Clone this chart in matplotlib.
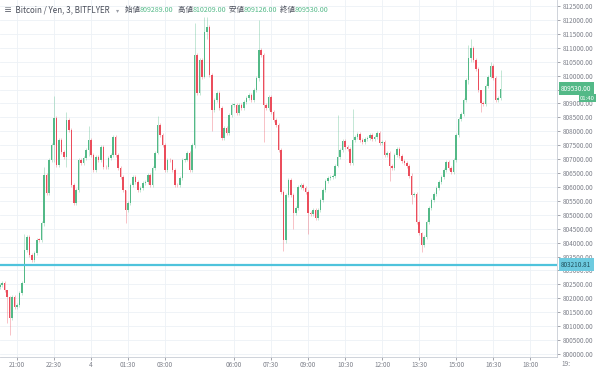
import matplotlib
matplotlib.use("Agg")
import matplotlib.pyplot as plt
import numpy as np
import pandas as pd

plt.rcParams['font.family'] = ['Noto Sans CJK JP', 'DejaVu Sans']

# 6-minute candles, closes (JPY)
closes = [
    802480, 802550, 802300, 802050, 801290, 802050, 801690, 801760, 802190, 802550,
    803740, 804200, 803560, 803380, 803630, 804100, 804090, 804710, 806430, 805780,
    806970, 807510, 808480, 806790, 807690, 807260, 807080, 808410, 808050, 806070,
    805420, 805890, 806970, 806860, 807040, 807330, 807690, 807150, 806610, 807080,
    806970, 807440, 806720, 806700, 807040, 807150, 807800, 807150, 806680, 806360,
    805890, 805170, 805420, 806070, 806360, 806180, 805890, 805960, 806140, 806180,
    806430, 806070, 806680, 807220, 808230, 807870, 807510, 806610, 806970, 806960,
    806610, 806070, 806060, 806320, 806970, 806980, 807220, 806610, 807510, 810740,
    809380, 810560, 809950, 811570, 811750, 810020, 808770, 809120, 809380, 808840,
    807760, 808120, 807940, 808590, 808940, 808950, 808660, 808940, 808840, 809050,
    809200, 809300, 809120, 809480, 809910, 810920, 810740, 808940, 808840, 809230,
    808690, 808410, 808230, 807330, 805820, 804100, 805710, 806250, 805710, 805070,
    805250, 806000, 806070, 805960, 805820, 805070, 805030, 805170, 804890, 805170,
    805530, 805890, 806210, 806320, 806360, 806390, 806750, 807080, 807330, 807650,
    807440, 807360, 806860, 807690, 807800, 807900, 807690, 807620, 807720, 807760,
    807870, 807720, 807800, 807940, 807580, 807620, 807150, 807220, 806750, 806680,
    807150, 807360, 807110, 806930, 806860, 806750, 806390, 805710, 805750, 804740,
    804350, 803920, 804200, 804740, 805250, 805530, 805750, 805960, 806180, 806360,
    806610, 806900, 806680, 806540, 806970, 807870, 808440, 808620, 809120, 809840,
    810630, 810990, 810560, 810240, 809480, 809020, 808980, 809630, 809950, 810350,
    809910, 809120, 809200, 809530,
]
first_open = 802400
# notable wicks: index -> (high, low)
spikes = {
    3: (802300, 801100), 4: (802100, 800700), 10: (804300, 802600), 18: (806700, 804600),
    22: (809250, 806900), 27: (808700, 806700), 36: (808200, 807100), 51: (805900, 804700),
    64: (808550, 807200), 79: (811900, 807400), 83: (812100, 809900), 84: (812100, 811300),
    86: (810100, 808000), 105: (812000, 809800), 107: (810800, 807600), 115: (805900, 803700),
    116: (805800, 804000), 119: (805800, 804500), 125: (805900, 804300), 137: (808600, 806700),
    143: (808800, 806800), 158: (807300, 806200), 167: (806500, 805400), 171: (804400, 803650),
    190: (811100, 809700), 191: (811300, 810500), 195: (809500, 808700), 199: (810500, 809900),
    203: (810210, 809130),
}
last_price = 809530.00
line_price = 803210.81
header = [("始値 ", "809289.00"), ("高値 ", "810209.00"), ("安値 ", "809126.00"), ("終値 ", "809530.00")]
tick_times = ["21:00", "22:30", "4", "01:30", "03:00", "06:00", "07:30", "09:00",
              "10:30", "12:00", "13:30", "15:00", "16:30", "18:00"]

UP, DOWN = "#53b987", "#eb4d5c"

# bar times: 6 min from 20:18, maintenance 04:00-04:12 skipped
start = pd.Timestamp("2018-01-03 20:18")
maint = pd.Timestamp("2018-01-04 04:00")
def bar_index(t):
    n = (t - start) / pd.Timedelta(minutes=6)
    return n - 2 if t >= maint + pd.Timedelta(minutes=12) else n

closes = np.array(closes, dtype=float)
opens = np.r_[first_open, closes[:-1]]
highs = np.maximum(opens, closes) + 60
lows = np.minimum(opens, closes) - 60
for i, (h, l) in spikes.items():
    highs[i], lows[i] = h, l
x = np.arange(len(closes))
colors = np.where(closes >= opens, UP, DOWN)

fig = plt.figure(figsize=(6, 3.71), dpi=100)
ax = fig.add_axes([0, 14 / 371, 557 / 600, 357 / 371])

ax.vlines(x, lows, highs, colors=colors, linewidth=0.7, alpha=0.35, zorder=2)
body = np.maximum(np.abs(closes - opens), 25)
ax.bar(x, body, bottom=np.minimum(opens, closes), width=0.62, color=colors,
       linewidth=0, zorder=3)

ax.axhline(line_price, color="#4fc3dc", linewidth=1.6, zorder=4)

ax.set_ylim(799893, 812716)
ax.set_xlim(0.1, 225.9)

yt = np.arange(800000, 812501, 500)
ax.yaxis.tick_right()
ax.set_yticks(yt)
# the 809500 label sits under the last-price box
ax.set_yticklabels(["" if v == 809500 else f"{v:.2f}" for v in yt])

day = pd.Timestamp("2018-01-04")
tpos = []
for lab in tick_times:
    if lab == "4":
        t = day
    else:
        hh, mm = map(int, lab.split(":"))
        t = (day if hh < 20 else pd.Timestamp("2018-01-03")) + pd.Timedelta(hours=hh, minutes=mm)
    tpos.append(bar_index(t))
ax.set_xticks(tpos)
ax.set_xticklabels(tick_times)
ax.get_xticklabels()[2].set_color("#2a2e39")

ax.tick_params(axis="both", labelsize=4.6, colors="#7d808a", length=2, width=0.5, pad=2)
ax.tick_params(axis="x", pad=1)
ax.grid(True, color="#edf1f6", linewidth=0.6, zorder=0)
for side in ["top", "left"]:
    ax.spines[side].set_visible(False)
for side in ["right", "bottom"]:
    ax.spines[side].set_color("#c8ccd4")
    ax.spines[side].set_linewidth(0.6)

# cut-off next time label under the price scale
fig.text(566 / 600, 1 - 364 / 371, "19:", fontsize=4.6, color="#7d808a",
         ha="center", va="center")

ax.annotate(f"{last_price:.2f}", xy=(1.0, last_price), xycoords=("axes fraction", "data"),
            xytext=(3, 0), textcoords="offset points", fontsize=4.6, color="white",
            va="center", ha="left",
            bbox=dict(boxstyle="square,pad=0.35", fc=UP, ec="none"), zorder=6)
ax.annotate("01:40", xy=(597 / 557, last_price), xycoords=("axes fraction", "data"),
            xytext=(-1.5, -7), textcoords="offset points", fontsize=4.3, color="white",
            va="center", ha="right",
            bbox=dict(boxstyle="square,pad=0.25", fc=UP, ec="none"), zorder=6,
            annotation_clip=False)
ax.annotate(f"{line_price:.2f}", xy=(1.0, line_price), xycoords=("axes fraction", "data"),
            xytext=(3, 0), textcoords="offset points", fontsize=4.6, color="#1f4e5a",
            va="center", ha="left",
            bbox=dict(boxstyle="square,pad=0.35", fc="#6dcbe0", ec="none"), zorder=6)

# header legend
fig.text(4 / 600, 1 - 10 / 371, "≡  Bitcoin / Yen, 3, BITFLYER", fontsize=5.8,
         color="#4a4e5a", va="center", ha="left")
fig.text(116 / 600, 1 - 10 / 371, "▾", fontsize=4.5, color="#9a9da6", va="center")
xs = [125, 178, 229, 280]
for (k, v), px in zip(header, xs):
    fig.text(px / 600, 1 - 10 / 371, k, fontsize=5.4, color="#4a4e5a", va="center")
    fig.text((px + 15) / 600, 1 - 10 / 371, v, fontsize=5.1, color=UP, va="center")

fig.savefig("out.png", dpi=100)
